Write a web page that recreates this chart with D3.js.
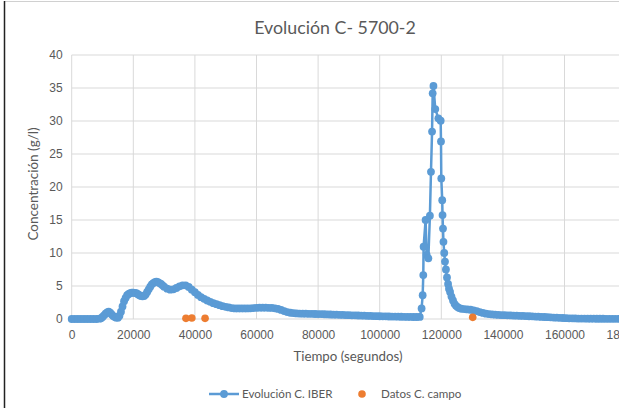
<!DOCTYPE html>
<html><head><meta charset="utf-8">
<script src="https://cdnjs.cloudflare.com/ajax/libs/d3/7.8.5/d3.min.js"></script>
<style>body{margin:0;background:#fff}svg{display:block;font-family:Lato,"Open Sans",sans-serif}</style>
</head><body><svg id="c" width="619" height="408"></svg>
<script>
const titleText = "Evolución C- 5700-2";
const xTicks = [0,20000,40000,60000,80000,100000,120000,140000,160000,180000,200000];
const yTicks = [0,5,10,15,20,25,30,35,40];
const seriesNames = ["Evolución C. IBER","Datos C. campo"];

const timeIber = [0,1000,2000,3000,4000,5000,6000,7000,8000,9000,
9500,10000,10500,11000,11500,12000,12500,13000,13500,14000,14500,15000,15500,16000,16500,17000,17500,18000,18500,19000,19500,20000,20500,21000,21500,22000,22500,23000,23500,24000,24500,25000,25500,26000,26500,27000,27500,28000,28500,29000,29500,30000,
31000,32000,33000,34000,35000,36000,37000,38000,39000,40000,41000,42000,43000,44000,45000,46000,47000,48000,49000,50000,51000,52000,53000,54000,55000,56000,57000,58000,59000,60000,61000,62000,63000,64000,65000,66000,67000,68000,69000,70000,71000,72000,73000,74000,75000,76000,77000,78000,79000,80000,81000,82000,83000,84000,85000,86000,87000,88000,89000,90000,91000,92000,93000,94000,95000,96000,97000,98000,99000,100000,101000,102000,103000,104000,105000,106000,107000,108000,109000,110000,111000,112000,113000,
113600,113950,114150,114250,114900,115250,115800,116300,116650,117000,117200,117450,118050,119050,119800,119900,120000,120300,120400,120550,120700,120950,121200,121500,121850,122200,122500,122850,123300,123800,124300,124800,125300,125800,126500,127500,128500,129500,130500,131500,132500,133500,134500,135500,136500,137500,138500,139500,140500,141500,142500,143500,144500,145500,146500,147500,148500,149500,150500,151500,152500,153500,154500,155500,156500,157500,158500,159500,160500,161500,162500,163500,164500,165500,166500,167500,168500,169500,170500,171500,172500,173500,174500,175500,176500,177500,178500,179500,180500,181500,182500,183500,184500,185500,186500,187500,188500,189500,190500];
const concIber = [0,0,0,0,0,0,0,0,0,0.05,
0.1,0.3,0.55,0.8,1.0,1.1,0.95,0.7,0.45,0.3,0.2,0.2,0.5,1.1,1.9,2.7,3.2,3.6,3.8,3.9,4.0,4.0,3.95,3.9,3.75,3.6,3.5,3.45,3.5,3.7,4.1,4.5,4.9,5.25,5.45,5.6,5.65,5.6,5.45,5.3,5.1,4.9,
4.6,4.45,4.5,4.7,4.95,5.1,5.1,4.85,4.45,4.05,3.65,3.3,3.05,2.8,2.6,2.4,2.25,2.1,1.95,1.85,1.75,1.65,1.6,1.6,1.6,1.6,1.6,1.62,1.65,1.7,1.72,1.72,1.72,1.7,1.68,1.62,1.52,1.38,1.2,1.05,0.95,0.9,0.85,0.82,0.8,0.8,0.78,0.78,0.76,0.75,0.74,0.72,0.7,0.68,0.66,0.65,0.63,0.62,0.6,0.58,0.56,0.55,0.53,0.52,0.5,0.48,0.46,0.45,0.43,0.42,0.4,0.4,0.38,0.37,0.36,0.35,0.34,0.33,0.32,0.31,0.3,0.3,0.32,
1.6,3.6,6.65,10.95,15.0,9.7,9.2,15.65,22.3,28.4,34.2,35.3,31.8,30.4,30.05,26.9,21.3,18.0,15.75,13.7,11.7,10.0,8.7,7.5,6.3,5.3,4.6,4.1,3.4,2.8,2.3,2.0,1.8,1.65,1.55,1.5,1.45,1.4,1.32,1.2,1.05,0.92,0.8,0.74,0.7,0.66,0.62,0.6,0.58,0.56,0.54,0.52,0.5,0.48,0.46,0.44,0.42,0.4,0.37,0.35,0.32,0.3,0.28,0.25,0.22,0.2,0.18,0.15,0.12,0.1,0.1,0.08,0.07,0.06,0.06,0.05,0.05,0.05,0.04,0.04,0.04,0.03,0.03,0.03,0.03,0.02,0.02,0.02,0.02,0.02,0.02,0.02,0.02,0.02,0.02,0.02,0.02,0.02];
const timeCampo = [37100,39000,43300,130200];
const concCampo = [0.1,0.15,0.1,0.25];

const blue = "#5B9BD5", orange = "#ED7D31", grid = "#D9D9D9", txt = "#595959";
const svg = d3.select("#c");
const x = d3.scaleLinear().domain([0,200000]).range([71.7, 687.7]);
const y = d3.scaleLinear().domain([0,40]).range([319, 55]);

// chart border
svg.append("line").attr("x1",4).attr("x2",619).attr("y1",1.5).attr("y2",1.5).attr("stroke","#D0D0D0").attr("stroke-width",1);
svg.append("line").attr("x1",4.5).attr("x2",4.5).attr("y1",1).attr("y2",408).attr("stroke","#222").attr("stroke-width",1.5);

// gridlines
svg.append("g").selectAll("line").data(yTicks).join("line")
  .attr("x1",x(0)).attr("x2",619).attr("y1",d=>y(d)).attr("y2",d=>y(d))
  .attr("stroke",grid).attr("stroke-width",1);
svg.append("g").selectAll("line").data(xTicks).join("line")
  .attr("x1",d=>x(d)).attr("x2",d=>x(d)).attr("y1",y(40)).attr("y2",y(0))
  .attr("stroke",grid).attr("stroke-width",1);

// axes labels via d3 axes
const yAxis = svg.append("g").attr("transform",`translate(${x(0)},0)`)
  .call(d3.axisLeft(y).tickValues(yTicks).tickSize(0).tickPadding(9));
yAxis.select(".domain").remove();
yAxis.selectAll("text").attr("fill",txt).style("font-size","12px");
const xAxis = svg.append("g").attr("transform",`translate(0,${y(0)})`)
  .call(d3.axisBottom(x).tickValues(xTicks).tickSize(0).tickPadding(11).tickFormat(d3.format("d")));
xAxis.select(".domain").remove();
xAxis.selectAll("text").attr("fill",txt).style("font-size","12px");

// series line + markers
const pts = timeIber.map((t,i)=>[t,concIber[i]]);
svg.append("path").datum(pts)
  .attr("d", d3.line().x(d=>x(d[0])).y(d=>y(d[1])))
  .attr("fill","none").attr("stroke",blue).attr("stroke-width",2.5).attr("stroke-linejoin","round");
svg.append("g").selectAll("circle").data(pts).join("circle")
  .attr("cx",d=>x(d[0])).attr("cy",d=>y(d[1])).attr("r",3.9).attr("fill",blue);
svg.append("g").selectAll("circle").data(timeCampo.map((t,i)=>[t,concCampo[i]])).join("circle")
  .attr("cx",d=>x(d[0])).attr("cy",d=>y(d[1])).attr("r",3.8).attr("fill",orange);

// titles
svg.append("text").attr("x",335).attr("y",34).attr("text-anchor","middle")
  .attr("fill",txt).style("font-size","17.8px").text(titleText);
svg.append("text").attr("x",348).attr("y",361).attr("text-anchor","middle")
  .attr("fill",txt).style("font-size","13.3px").text("Tiempo (segundos)");
svg.append("text").attr("transform","translate(38,184) rotate(-90)").attr("text-anchor","middle")
  .attr("fill",txt).style("font-size","13.5px").text("Concentración (g/l)");

// legend
const lg = svg.append("g");
lg.append("line").attr("x1",209).attr("x2",239).attr("y1",394).attr("y2",394).attr("stroke",blue).attr("stroke-width",2.5);
lg.append("circle").attr("cx",224).attr("cy",394).attr("r",3.9).attr("fill",blue);
lg.append("text").attr("x",242).attr("y",398).attr("fill",txt).style("font-size","11.6px").text(seriesNames[0]);
lg.append("circle").attr("cx",362).attr("cy",394).attr("r",3.8).attr("fill",orange);
lg.append("text").attr("x",381).attr("y",398).attr("fill",txt).style("font-size","11.6px").text(seriesNames[1]);
</script></body></html>
